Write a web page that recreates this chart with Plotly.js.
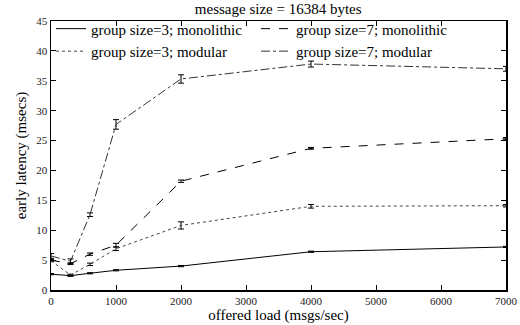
<!DOCTYPE html>
<html><head><meta charset="utf-8">
<script src="https://cdn.plot.ly/plotly-3.0.1.min.js"></script>
<style>html,body{margin:0;padding:0;background:#fff}#c{width:520px;height:325px}</style>
</head><body><div id="c"></div>
<script>
const load = [0, 300, 600, 1000, 2000, 4000, 7000];
const names = ["group size=3; monolithic", "group size=7; monolithic", "group size=3; modular", "group size=7; modular"];
const g3mono = [2.65, 2.4, 2.8, 3.3, 4.0, 6.4, 7.2];
const g3mono_err = [0.1, 0.1, 0.1, 0.1, 0.1, 0.1, 0.1];
const g7mono = [5.0, 4.4, 6.0, 7.5, 18.2, 23.7, 25.3];
const g7mono_err = [0.15, 0.15, 0.2, 0.3, 0.2, 0.15, 0.2];
const g3mod = [4.9, 2.5, 4.3, 6.9, 10.8, 14.0, 14.1];
const g3mod_err = [0.15, 0.15, 0.2, 0.3, 0.6, 0.3, 0.2];
const g7mod = [5.7, 4.8, 12.6, 27.7, 35.3, 37.8, 37.0];
const g7mod_err = [0.4, 0.4, 0.3, 0.8, 0.7, 0.5, 0.4];

const series = [
  {y: g3mono, e: g3mono_err, dash: "solid", color: "#000"},
  {y: g7mono, e: g7mono_err, dash: "dash", color: "#000"},
  {y: g3mod, e: g3mod_err, dash: "dot", color: "#444"},
  {y: g7mod, e: g7mod_err, dash: "dashdot", color: "#333"}
];
const traces = series.map((s, i) => ({
  x: load, y: s.y, name: names[i], type: "scatter", mode: "lines",
  line: {color: s.color, width: 1, dash: s.dash},
  error_y: {type: "data", array: s.e, visible: true, color: "#000", thickness: 1, width: 3}
}));
const fam = "Liberation Serif";
const f = (size, color) => ({family: fam, size: size, color: color || "#000"});
const layout = {
  width: 520, height: 325,
  margin: {l: 51, r: 14, t: 19, b: 35},
  paper_bgcolor: "#fff", plot_bgcolor: "#fff",
  font: f(15),
  title: {text: "message size = 16384 bytes", x: 0.535, xanchor: "center", y: 0.99, yanchor: "top", font: f(15)},
  showlegend: true,
  legend: {x: 0.0, y: 1.032, xanchor: "left", yanchor: "top", orientation: "h",
    entrywidth: 160, entrywidthmode: "pixels", bgcolor: "rgba(255,255,255,0)",
    font: f(15), tracegroupgap: 0, itemwidth: 30},
  xaxis: {range: [0, 7000], tickvals: [0,1000,2000,3000,4000,5000,6000,7000],
    ticks: "inside", ticklen: 5, tickcolor: "#000", showline: true, linecolor: "#000", linewidth: 1.5,
    mirror: "ticks", showgrid: false, zeroline: false,
    tickfont: f(11, "#222"),
    title: {text: "offered load (msgs/sec)", standoff: 0, font: f(15)}},
  yaxis: {range: [0, 45], tickvals: [0,5,10,15,20,25,30,35,40,45],
    ticks: "inside", ticklen: 5, tickcolor: "#000", showline: true, linecolor: "#000", linewidth: 1.5,
    mirror: "ticks", showgrid: false, zeroline: false,
    tickfont: f(11, "#222"),
    title: {text: "early latency (msecs)", standoff: 6, font: f(15)}}
};
Plotly.newPlot("c", traces, layout, {displayModeBar: false, staticPlot: true});
</script></body></html>
